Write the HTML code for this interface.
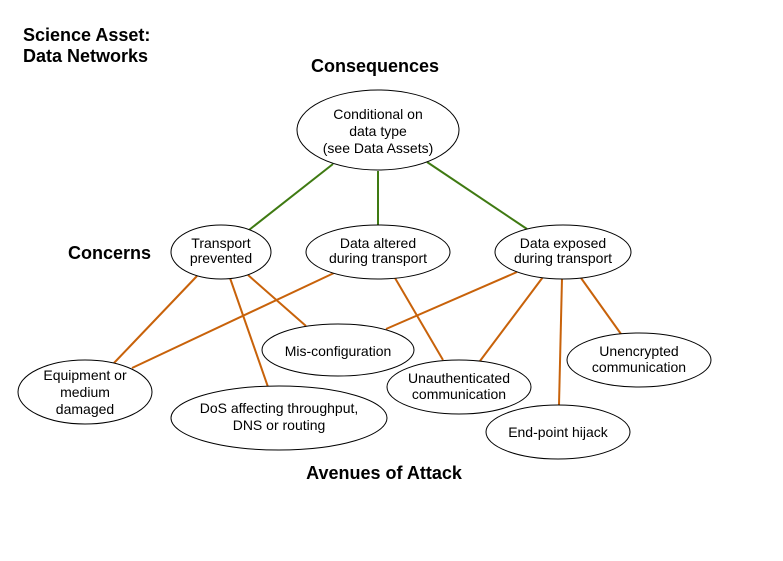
<!DOCTYPE html>
<html><head><style>
html,body{margin:0;padding:0;background:#fff;}
svg{display:block;font-family:"Liberation Sans",sans-serif;}
.b{font-weight:bold;font-size:18px;fill:#000;}
.t{font-size:14px;fill:#000;text-anchor:middle;}
ellipse{fill:#fff;stroke:#000;stroke-width:1;}
.g{stroke:#3f7a12;stroke-width:2;}
.o{stroke:#c8620a;stroke-width:2;}
</style></head><body>
<svg width="783" height="561" viewBox="0 0 783 561">
<text class="b" x="23" y="41">Science Asset:</text>
<text class="b" x="23" y="62">Data Networks</text>
<text class="b" x="375" y="72" text-anchor="middle">Consequences</text>
<text class="b" x="68" y="259">Concerns</text>
<text class="b" x="384" y="479" text-anchor="middle">Avenues of Attack</text>

<line class="g" x1="333" y1="164" x2="249" y2="230"/>
<line class="g" x1="378" y1="171" x2="378" y2="225"/>
<line class="g" x1="427" y1="162" x2="527" y2="229"/>

<line class="o" x1="197" y1="276" x2="114" y2="363"/>
<line class="o" x1="230" y1="278" x2="268" y2="387"/>
<line class="o" x1="248" y1="275" x2="306" y2="326"/>
<line class="o" x1="334" y1="273" x2="132" y2="368"/>
<line class="o" x1="395" y1="278" x2="443" y2="360"/>
<line class="o" x1="517" y1="272" x2="386" y2="329"/>
<line class="o" x1="543" y1="277" x2="480" y2="361"/>
<line class="o" x1="562" y1="278" x2="559" y2="405"/>
<line class="o" x1="581" y1="278" x2="621" y2="334"/>

<ellipse cx="378" cy="130" rx="81" ry="40"/>
<text class="t" x="378" y="119" font-size="13.5">Conditional on</text>
<text class="t" x="378" y="136" font-size="13.5">data type</text>
<text class="t" x="378" y="153" font-size="13.5">(see Data Assets)</text>

<ellipse cx="221" cy="252" rx="50" ry="27"/>
<text class="t" x="221" y="248" font-size="12.5">Transport</text>
<text class="t" x="221" y="263" font-size="12.5">prevented</text>

<ellipse cx="378" cy="252" rx="72" ry="27"/>
<text class="t" x="378" y="248" font-size="12.5">Data altered</text>
<text class="t" x="378" y="263" font-size="12.5">during transport</text>

<ellipse cx="563" cy="252" rx="68" ry="27"/>
<text class="t" x="563" y="248" font-size="12.5">Data exposed</text>
<text class="t" x="563" y="263" font-size="12.5">during transport</text>

<ellipse cx="338" cy="350" rx="76" ry="26"/>
<text class="t" x="338" y="356">Mis-configuration</text>

<ellipse cx="85" cy="392" rx="67" ry="32"/>
<text class="t" x="85" y="380">Equipment or</text>
<text class="t" x="85" y="397">medium</text>
<text class="t" x="85" y="414">damaged</text>

<ellipse cx="279" cy="418" rx="108" ry="32"/>
<text class="t" x="279" y="413">DoS affecting throughput,</text>
<text class="t" x="279" y="430">DNS or routing</text>

<ellipse cx="459" cy="387" rx="72" ry="27"/>
<text class="t" x="459" y="383">Unauthenticated</text>
<text class="t" x="459" y="399">communication</text>

<ellipse cx="639" cy="360" rx="72" ry="27"/>
<text class="t" x="639" y="356">Unencrypted</text>
<text class="t" x="639" y="372">communication</text>

<ellipse cx="558" cy="432" rx="72" ry="27"/>
<text class="t" x="558" y="437">End-point hijack</text>
</svg>
</body></html>
